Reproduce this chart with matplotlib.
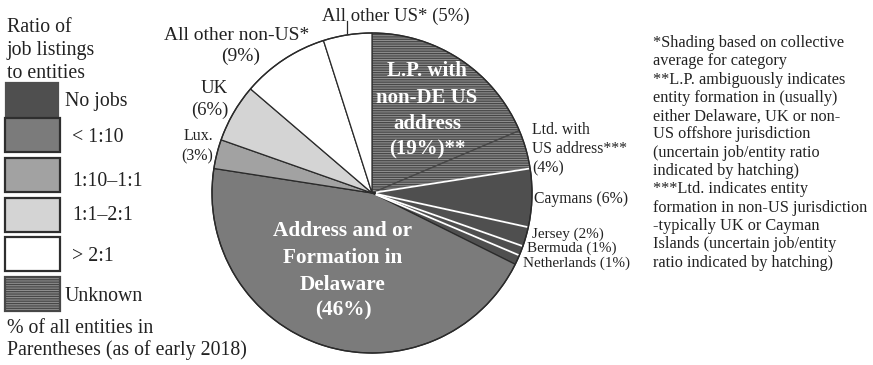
import matplotlib
matplotlib.use("Agg")
import matplotlib.pyplot as plt
from matplotlib.patches import Rectangle
import numpy as np

plt.rcParams['font.family'] = ['Liberation Serif', 'DejaVu Serif']
plt.rcParams['hatch.linewidth'] = 0.9

# Entity groups, clockwise from 12 o'clock, with their share of all entities (%)
segments = ["L.P. with non-DE US address", "Ltd. with US address", "Caymans", "Jersey",
            "Bermuda", "Netherlands", "Delaware", "Lux.", "UK",
            "All other non-US", "All other US"]
shares = [19, 4, 6, 2, 1, 1, 46, 3, 6, 9, 5]
ratio_class = ["Unknown", "Unknown", "No jobs", "No jobs", "No jobs", "No jobs",
               "< 1:10", "1:10\u20131:1", "1:1\u20132:1", "> 2:1", "> 2:1"]

legend_classes = ["No jobs", "< 1:10", "1:10\u20131:1", "1:1\u20132:1", "> 2:1", "Unknown"]
class_fill = {"No jobs": "#4f4f4f", "< 1:10": "#7b7b7b", "1:10\u20131:1": "#a2a2a2",
              "1:1\u20132:1": "#d4d4d4", "> 2:1": "#ffffff", "Unknown": "#8e8e8e"}
HATCH = "-------"
HATCH_COLOR = "#474747"
TEXT = "#222222"

footnotes = [
    "*Shading based on collective",
    "average for category",
    "**L.P. ambiguously indicates",
    "entity formation in (usually)",
    "either Delaware, UK or non-",
    "US offshore jurisdiction",
    "(uncertain job/entity ratio",
    "indicated by hatching)",
    "***Ltd. indicates entity",
    "formation in non-US jurisdiction",
    "-typically UK or Cayman",
    "Islands (uncertain job/entity",
    "ratio indicated by hatching)",
]

W, H = 873, 365
fig = plt.figure(figsize=(W / 100, H / 100), dpi=100)
ax = fig.add_axes([0, 0, 1, 1])

cx, cy, R = 372, 193, 160
wedges, _ = ax.pie(shares, startangle=-90, counterclock=True, center=(cx, cy), radius=R,
                   colors=[class_fill[c] for c in ratio_class],
                   wedgeprops=dict(edgecolor="#2a2a2a", linewidth=0.9))
for w, c in zip(wedges, ratio_class):
    if c == "Unknown":
        w.set_hatch(HATCH)
        w.set_edgecolor(HATCH_COLOR)

ax.set_xlim(0, W)
ax.set_ylim(H, 0)
ax.set_aspect('equal')
ax.axis('off')

# white separators between the offshore "no jobs" slices
for i in [1, 2, 3, 4]:
    th = np.deg2rad(wedges[i].theta2)
    ax.plot([cx + 4 * np.cos(th), cx + R * 0.995 * np.cos(th)],
            [cy + 4 * np.sin(th), cy + R * 0.995 * np.sin(th)],
            color="white", lw=1.3, solid_capstyle="butt", zorder=3)

# outer rim
ax.add_patch(plt.Circle((cx, cy), R, fill=False, edgecolor="#2a2a2a", lw=1.0, zorder=4))

# leader for the small "All other US" slice
us = wedges[10]
th = np.deg2rad((us.theta1 + us.theta2) / 2)
ex, ey = cx + R * np.cos(th), cy + R * np.sin(th)
ax.plot([ex, ex], [ey - 2, ey - 14], color="#2a2a2a", lw=0.9)

# ---- legend ----
LEG_FS = 14.3
for t, yb in zip(["Ratio of", "job listings", "to entities"], [32, 55, 78]):
    ax.text(7, yb, t, fontsize=LEG_FS, color=TEXT, va="baseline", ha="left")

box_tops = [83, 118, 158, 198, 237, 277]
label_x = [65, 72, 72, 72, 72, 65]
label_base = [106, 142, 186, 220, 261, 301]
for cls, top, lx, lb in zip(legend_classes, box_tops, label_x, label_base):
    first = cls == "No jobs"
    rect = Rectangle((6 if first else 5, top), 52 if first else 55, 34,
                     facecolor=class_fill[cls],
                     edgecolor=class_fill[cls] if first else "#2e2e2e",
                     lw=1.6)
    if cls == "Unknown":
        rect.set_hatch(HATCH)
        rect.set_edgecolor(HATCH_COLOR)
    ax.add_patch(rect)
    ax.text(lx, lb, cls, fontsize=LEG_FS, color=TEXT, va="baseline", ha="left")

ax.text(7, 333, "% of all entities in", fontsize=LEG_FS, color=TEXT, va="baseline")
ax.text(7, 355, "Parentheses (as of early 2018)", fontsize=LEG_FS, color=TEXT, va="baseline")

# ---- slice labels ----
def pct(i):
    return f"({shares[i]}%)"

ax.text(396, 21, f"All other US* {pct(10)}", fontsize=13.5, color=TEXT, ha="center", va="baseline")
ax.text(237, 40, "All other non-US*", fontsize=14, color=TEXT, ha="center", va="baseline")
ax.text(241, 61, pct(9), fontsize=14, color=TEXT, ha="center", va="baseline")
ax.text(228, 93, "UK", fontsize=13.5, color=TEXT, ha="right", va="baseline")
ax.text(228, 115, pct(8), fontsize=13.5, color=TEXT, ha="right", va="baseline")
ax.text(213, 140, "Lux.", fontsize=11.5, color=TEXT, ha="right", va="baseline")
ax.text(213, 160, pct(7), fontsize=11.5, color=TEXT, ha="right", va="baseline")

lp_lines = ["L.P. with", "non-DE US", "address", f"{pct(0)}**"]
for t, yb in zip(lp_lines, [76, 103, 129, 154]):
    ax.text(427, yb, t, fontsize=15, color="white", fontweight="bold", ha="center", va="baseline")

de_lines = ["Address and or", "Formation in", "Delaware", pct(6)]
for t, yb in zip(de_lines, [236, 263, 290, 315]):
    ax.text(343, yb, t, fontsize=15.3, color="white", fontweight="bold", ha="center", va="baseline")

for t, yb in zip(["Ltd. with", "US address***", pct(1)], [134, 153, 172]):
    ax.text(532, yb, t, fontsize=11.3, color=TEXT, ha="left", va="baseline")

ax.text(534, 203, f"Caymans {pct(2)}", fontsize=11.3, color=TEXT, ha="left", va="baseline")
ax.text(532, 237.5, f"Jersey {pct(3)}", fontsize=10.9, color=TEXT, ha="left", va="baseline")
ax.text(527, 252, f"Bermuda {pct(4)}", fontsize=10.9, color=TEXT, ha="left", va="baseline")
ax.text(523, 266.5, f"Netherlands {pct(5)}", fontsize=10.9, color=TEXT, ha="left", va="baseline")

# ---- footnotes ----
for k, t in enumerate(footnotes):
    ax.text(653, 47 + 18.3 * k, t, fontsize=11.7, color=TEXT, ha="left", va="baseline")

fig.savefig("out.png", dpi=100)
